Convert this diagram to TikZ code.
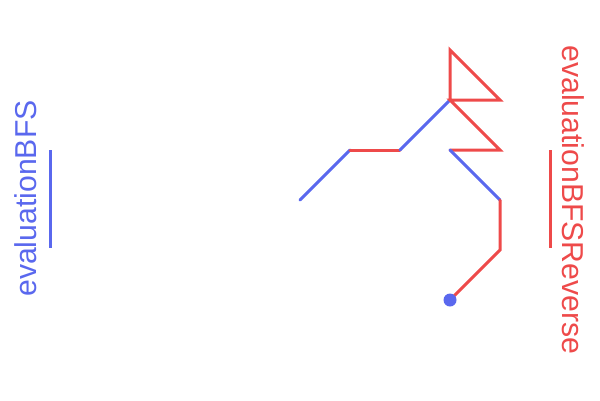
\documentclass[tikz,border=0pt]{standalone}
\usepackage{fontspec}
\setmainfont{Liberation Sans}
\definecolor{bl}{HTML}{5A68EE}
\definecolor{rd}{HTML}{EE4A4A}
\begin{document}
\begin{tikzpicture}[x=1pt,y=-1pt,
  bseg/.style={draw=bl,line width=3pt,line cap=round},
  rseg/.style={draw=rd,line width=3pt,line cap=round},
  lbl/.style={inner sep=0pt,font=\fontsize{30.2}{30.2}\selectfont}]
\useasboundingbox (0,0) rectangle (600,400);
\coordinate (p1) at (300,200);
\coordinate (p2) at (350,150);
\coordinate (p3) at (400,150);
\coordinate (p4) at (450,100);
\coordinate (p5) at (450,50);
\coordinate (p6) at (500,100);
\coordinate (p7) at (500,150);
\coordinate (p8) at (450,150);
\coordinate (p9) at (500,200);
\coordinate (p10) at (500,250);
\coordinate (p11) at (450,300);
\coordinate (lb1) at (50,150);
\coordinate (lb2) at (50,248);
\coordinate (lr1) at (550,150);
\coordinate (lr2) at (550,248);
\path[bseg] (p1) -- (p2);
\path[rseg] (p2) -- (p3);
\path[bseg] (p3) -- (p4);
\path[rseg] (p4) -- (p5) -- (p6) -- (p4) -- (p7) -- (p8);
\path[bseg] (p8) -- (p9);
\path[rseg] (p9) -- (p10) -- (p11);
\fill[bl] (p11) circle (6.5);
\path[bseg,line cap=butt] (lb1) -- (lb2);
\path[rseg,line cap=butt] (lr1) -- (lr2);
\node[lbl,text=bl,rotate=90,anchor=base] (tb) at (36.5,198.5) {evaluationBFS};
\node[lbl,text=rd,rotate=-90,anchor=base] (tr) at (562.5,200) {evaluationBFSReverse};
\end{tikzpicture}
\end{document}
